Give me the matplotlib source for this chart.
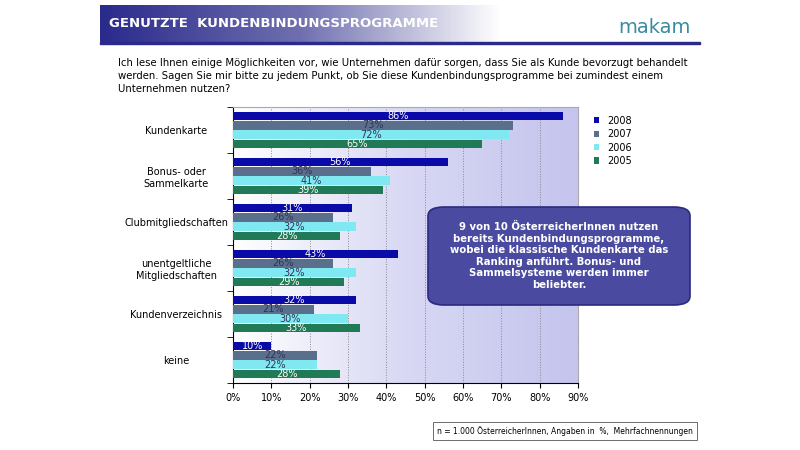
import matplotlib
matplotlib.use("Agg")
import matplotlib.pyplot as plt
import numpy as np
from matplotlib.patches import FancyBboxPatch, Rectangle
from matplotlib.colors import LinearSegmentedColormap

categories = ["Kundenkarte", "Bonus- oder\nSammelkarte", "Clubmitgliedschaften",
              "unentgeltliche\nMitgliedschaften", "Kundenverzeichnis", "keine"]
years = ["2008", "2007", "2006", "2005"]
v2008 = [86, 56, 31, 43, 32, 10]
v2007 = [73, 36, 26, 26, 21, 22]
v2006 = [72, 41, 32, 32, 30, 22]
v2005 = [65, 39, 28, 29, 33, 28]
series = [v2008, v2007, v2006, v2005]
colors = ["#0a0aa8", "#5a6f8c", "#7fe8f0", "#1f7a55"]
xticks = [0, 10, 20, 30, 40, 50, 60, 70, 80, 90]

fig = plt.figure(figsize=(8, 4.5), dpi=100)
fig.patch.set_facecolor("white")
W, H = 800, 450
def fx(x): return x / W
def fy(y): return 1 - y / H

hax = fig.add_axes([fx(100), fy(42), fx(600), 37 / H])
grad = np.linspace(0, 1, 256)[None, :]
cm = LinearSegmentedColormap.from_list("g", ["#2a2a8c", "#6f6fb0", "#ffffff", "#ffffff"])
hax.imshow(grad, aspect="auto", cmap=cm, extent=[0, 1, 0, 1])
hax.axis("off")
hax.text(0.015, 0.5, "GENUTZTE  KUNDENBINDUNGSPROGRAMME", color="white", fontsize=9.5,
         fontweight="bold", va="center", transform=hax.transAxes)
hax.text(0.985, 0.4, "makam", color="#3a8aa0", fontsize=14, ha="right", va="center",
         transform=hax.transAxes)
fig.add_artist(Rectangle((fx(100), fy(44)), fx(600), 2.5 / H, color="#2a2a8c",
                         transform=fig.transFigure))

fig.text(fx(118), fy(58), "Ich lese Ihnen einige Möglichkeiten vor, wie Unternehmen dafür sorgen, dass Sie als Kunde bevorzugt behandelt\n"
         "werden. Sagen Sie mir bitte zu jedem Punkt, ob Sie diese Kundenbindungsprogramme bei zumindest einem\n"
         "Unternehmen nutzen?", fontsize=7.3, va="top", linespacing=1.35)

ax = fig.add_axes([fx(233), fy(383), fx(578 - 233), (383 - 107) / H])
bg = np.linspace(0, 1, 256)[None, :]
bcm = LinearSegmentedColormap.from_list("b", ["#ffffff", "#d8d8f4", "#c4c4ee"])
ax.imshow(bg, aspect="auto", cmap=bcm, extent=[0, 90, -0.5, 5.5], zorder=0)

n = len(categories)
h = 0.2
for j, (vals, c) in enumerate(zip(series, colors)):
    ys = np.arange(n) + (j - 1.5) * h
    ax.barh(ys, vals, height=h * 0.92, color=c, edgecolor="none", zorder=3, label=years[j])
    for y, v in zip(ys, vals):
        ax.text(v / 2, y, f"{v}%", ha="center", va="center", fontsize=7,
                color="white" if j in (0, 3) else "#333355", zorder=4)
ax.set_ylim(n - 0.5, -0.5)
ax.set_xlim(0, 90)
ax.set_xticks(xticks)
ax.set_xticklabels([f"{t}%" for t in xticks], fontsize=7)
ax.set_yticks(np.arange(n))
ax.set_yticklabels(categories, fontsize=7, ha="center")
ax.tick_params(axis="y", pad=41, length=0)
ax.set_yticks(np.arange(n + 1) - 0.5, minor=True)
ax.tick_params(axis="y", which="minor", length=4)
ax.grid(axis="x", linestyle=":", color="#888888", linewidth=0.7, zorder=1)
for s in ["top", "right"]:
    ax.spines[s].set_color("#aaaaaa")
ax.legend(loc="upper left", bbox_to_anchor=(1.02, 1.0), frameon=False, fontsize=7,
          handlelength=0.6, handleheight=0.6, labelspacing=0.35)

box = FancyBboxPatch((fx(428), fy(305)), fx(262), (305 - 207) / H,
                     boxstyle="round,pad=0,rounding_size=0.02", transform=fig.transFigure,
                     facecolor="#4a4aa0", edgecolor="#2a2a80", linewidth=1.2)
fig.add_artist(box)
fig.text(fx(559), fy(256), "9 von 10 ÖsterreicherInnen nutzen\nbereits Kundenbindungsprogramme,\n"
         "wobei die klassische Kundenkarte das\nRanking anführt. Bonus- und\n"
         "Sammelsysteme werden immer\nbeliebter.", color="white", fontsize=7.3,
         fontweight="bold", ha="center", va="center", linespacing=1.2)

fig.text(fx(565), fy(431), "n = 1.000 ÖsterreicherInnen, Angaben in  %,  Mehrfachnennungen",
         fontsize=5.5, ha="center", va="center",
         bbox=dict(boxstyle="square,pad=0.5", facecolor="white", edgecolor="#555555", linewidth=0.6))

fig.savefig("out.png", dpi=100)
